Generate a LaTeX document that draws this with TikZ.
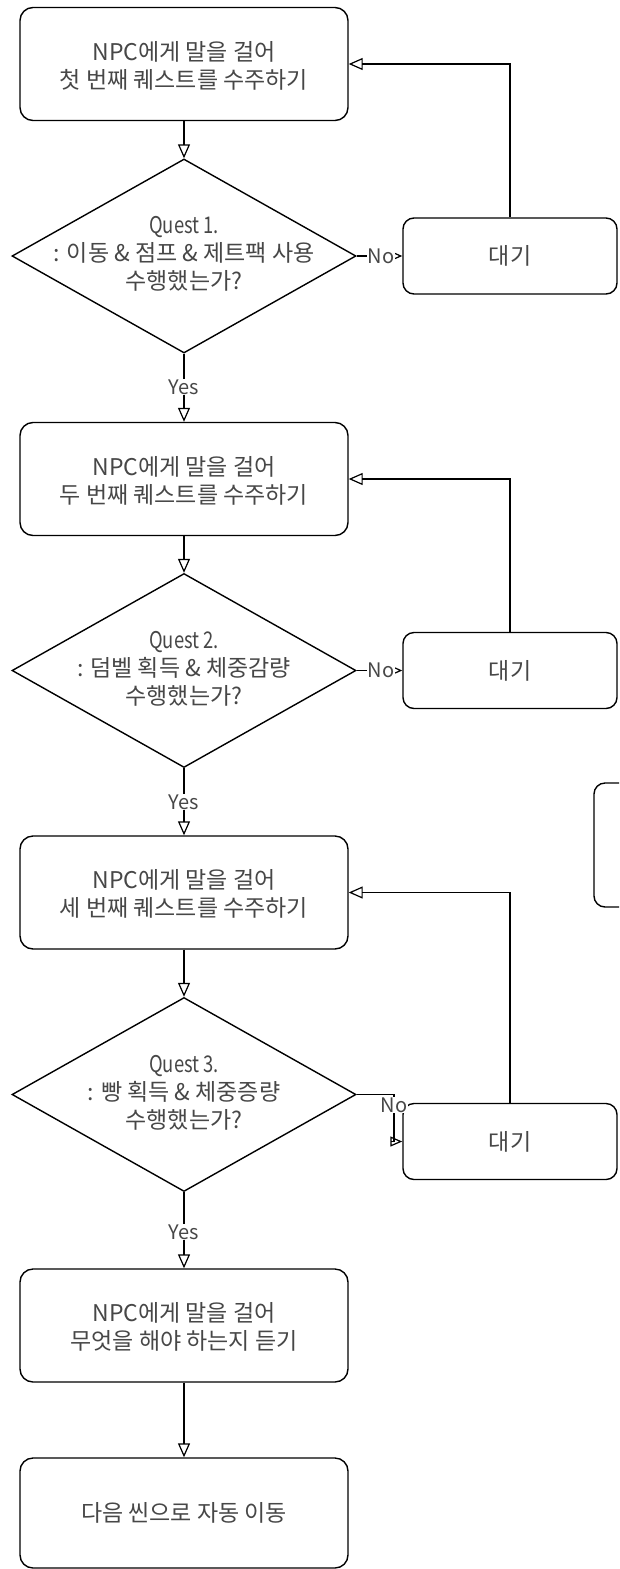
\documentclass[tikz,border=0pt]{standalone}
\usepackage{fontspec}
\setmainfont{Noto Sans CJK KR}
\newfontfamily\narrowlatin[FakeStretch=0.8]{Noto Sans CJK KR}
\usetikzlibrary{shapes.geometric,arrows.meta}
\tikzset{
  base/.style={draw=black, line width=1.4pt, fill=white, inner sep=0pt},
  procbox/.style={base, rectangle, rounded corners=13pt, minimum width=328pt, minimum height=113pt},
  waitbox/.style={base, rectangle, rounded corners=11pt, minimum width=214pt, minimum height=76pt},
  decision/.style={base, diamond, minimum width=344pt, minimum height=194pt},
  txt/.style={align=center, text=black!72, font=\fontsize{23}{28}\selectfont, inner sep=0pt},
  lbl/.style={fill=white, text=black!72, font=\fontsize{20}{22}\selectfont, inner sep=1pt},
  arr/.style={draw=black, line width=1.4pt, -{Triangle[open, length=14pt, width=12pt, line width=1.2pt]}},
  arrs/.style={draw=black, line width=1.4pt, -{Triangle[open, length=12pt, width=10pt, line width=1.2pt]}}
}
\begin{document}
\begin{tikzpicture}[x=1pt, y=-1pt]
\clip (0,0) rectangle (619,1569);
\fill[white] (0,0) rectangle (619,1569);

% nodes
\node[procbox] (b1) at (184,64) {};
\node[txt] (b1t) at (184,66) {NPC에게 말을 걸어\\첫 번째 퀘스트를 수주하기};
\node[decision] (d1) at (184,256) {};
\node[txt] (d1t) at (184,254) {{\narrowlatin Quest 1.}\\: 이동 \& 점프 \& 제트팩 사용\\수행했는가?};
\node[waitbox] (w1) at (510,256) {};
\node[txt] (w1t) at (510,256) {대기};

\node[procbox] (b2) at (184,479) {};
\node[txt] (b2t) at (184,481) {NPC에게 말을 걸어\\두 번째 퀘스트를 수주하기};
\node[decision] (d2) at (184,670.5) {};
\node[txt] (d2t) at (184,669) {{\narrowlatin Quest 2.}\\: 덤벨 획득 \& 체중감량\\수행했는가?};
\node[waitbox] (w2) at (510,670.5) {};
\node[txt] (w2t) at (510,670.5) {대기};

\node[waitbox, minimum height=124pt] (p) at (701,845) {};

\node[procbox] (b3) at (184,892.5) {};
\node[txt] (b3t) at (184,894) {NPC에게 말을 걸어\\세 번째 퀘스트를 수주하기};
\node[decision] (d3) at (184,1094.5) {};
\node[txt] (d3t) at (184,1093) {{\narrowlatin Quest 3.}\\: 빵 획득 \& 체중증량\\수행했는가?};
\node[waitbox] (w3) at (510,1141.5) {};
\node[txt] (w3t) at (510,1141.5) {대기};

\node[procbox] (b4) at (184,1325.5) {};
\node[txt] (b4t) at (184,1327) {NPC에게 말을 걸어\\무엇을 해야 하는지 듣기};
\node[procbox, minimum height=110pt] (b5) at (184,1513) {};
\node[txt] (b5t) at (184,1513) {다음 씬으로 자동 이동};

% connectors
\draw[arr] (b1.south) -- (d1.north);
\draw[arr] (d1.south) -- (b2.north);
\node[lbl] (y1) at (184,387) {Yes};
\draw[arr] (d1.east) -- (w1.west);
\node[lbl] (n1) at (381,256) {No};
\draw[arr] (w1.north) |- (b1.east);

\draw[arr] (b2.south) -- (d2.north);
\draw[arr] (d2.south) -- (b3.north);
\node[lbl] (y2) at (184,802) {Yes};
\draw[arr] (d2.east) -- (w2.west);
\node[lbl] (n2) at (381,670.5) {No};
\draw[arr] (w2.north) |- (b2.east);

\draw[arr] (b3.south) -- (d3.north);
\draw[arr] (d3.south) -- (b4.north);
\node[lbl] (y3) at (184,1232) {Yes};
\coordinate (c3a) at (394,1094.5);
\coordinate (c3b) at (394,1141.5);
\draw[arrs] (d3.east) -- (c3a) -- (c3b) -- (w3.west);
\node[lbl] (n3) at (394,1105) {No};
\draw[arr] (w3.north) |- (b3.east);

\draw[arr] (b4.south) -- (b5.north);
\end{tikzpicture}
\end{document}
